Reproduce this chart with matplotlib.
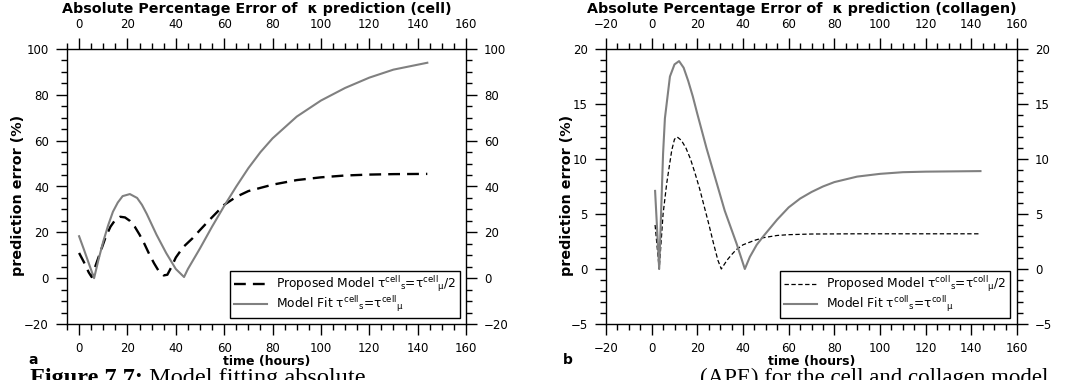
import matplotlib
matplotlib.use("Agg")
import matplotlib.pyplot as plt
from matplotlib.ticker import MultipleLocator
from matplotlib.text import Annotation

plt.rcParams['font.family'] = ['DejaVu Sans']
plt.rcParams['mathtext.default'] = 'regular'

# ---- data: cell panel ----
cell_prop_t = [0, 2, 4, 5.2, 7, 9, 11, 13, 15, 17, 19, 21, 23, 25, 27, 29, 31, 33, 35, 36.5,
               38, 40, 43, 47, 50, 54, 60, 65, 70, 80, 90, 100, 110, 120, 130, 144]
cell_prop_v = [11, 7, 2.5, 0.5, 6, 12, 18, 22.5, 25.5, 26.8, 26.5, 25, 22.5, 19, 15, 10.5, 6.5, 3, 1.2, 1.5,
               4.5, 9, 13.5, 17.5, 21, 25.5, 32, 35.5, 38, 40.8, 42.8, 44, 44.8, 45.2, 45.4, 45.5]
cell_fit_t = [0, 2, 4, 6.2, 8, 10, 12, 14, 16, 18, 21, 24, 26, 28, 30, 32, 34, 36, 38, 40, 43.4,
              45, 50, 55, 60, 65, 70, 75, 80, 90, 100, 110, 120, 130, 144]
cell_fit_v = [18.3, 12.5, 6.5, 0, 8, 16, 23, 29, 33, 35.8, 36.7, 35, 32, 28, 23.5, 19, 15, 11, 7.5, 4, 0.5,
              4, 13, 22.5, 31.5, 40, 48, 55, 61, 70.5, 77.5, 83, 87.5, 91, 94]

# ---- data: collagen panel ----
coll_prop_t = [1.5, 3.3, 5, 6.6, 8.8, 10, 11.2, 13, 15, 17, 19, 21, 23, 25, 27, 29, 30.5,
               33, 35, 37, 40, 45, 49, 55, 60, 70, 90, 144]
coll_prop_v = [4.0, 0, 5, 7.8, 10.8, 11.8, 12, 11.7, 11, 10, 8.7, 7.3, 5.7, 4.1, 2.4, 0.8, 0,
               0.8, 1.3, 1.75, 2.2, 2.6, 2.85, 3.05, 3.12, 3.18, 3.2, 3.2]
coll_fit_t = [1.5, 3.3, 5, 5.8, 8, 10, 12, 14, 16, 18, 20, 24, 28.5, 32, 37.2, 40.8,
              43, 46, 49, 55, 60, 65, 70, 75, 80, 90, 100, 110, 120, 144]
coll_fit_v = [7.1, 0, 10.5, 13.7, 17.5, 18.6, 18.9, 18.3, 17.1, 15.7, 14.1, 11, 7.8, 5.3, 2.3, 0,
              1.1, 2.2, 3.0, 4.5, 5.6, 6.4, 7.0, 7.5, 7.9, 8.4, 8.65, 8.8, 8.85, 8.9]

titles = ["Absolute Percentage Error of  κ prediction (cell)",
          "Absolute Percentage Error of  κ prediction (collagen)"]
legend_prop = [r"Proposed Model τ$^{cell}$$_{s}$=τ$^{cell}$$_{μ}$/2",
               r"Proposed Model τ$^{coll}$$_{s}$=τ$^{coll}$$_{μ}$/2"]
legend_fit = [r"Model Fit τ$^{cell}$$_{s}$=τ$^{cell}$$_{μ}$",
              r"Model Fit τ$^{coll}$$_{s}$=τ$^{coll}$$_{μ}$"]
panel_letters = ["a", "b"]
caption_bold = "Figure 7.7:"
caption_left = " Model fitting absolute"
caption_right = "(APE) for the cell and collagen model"

W, H = 1065, 380
fig = plt.figure(figsize=(W / 100, H / 100), dpi=100)

def fr(x0, y0, x1, y1):
    return [x0 / W, 1 - y1 / H, (x1 - x0) / W, (y1 - y0) / H]

ax1 = fig.add_axes(fr(67, 49, 466, 324))
ax2 = fig.add_axes(fr(606, 49, 1017, 324))

gray = '#808080'
ax1.plot(cell_prop_t, cell_prop_v, color='black', lw=1.7, ls=(0, (5, 3)), label=legend_prop[0])
ax1.plot(cell_fit_t, cell_fit_v, color=gray, lw=1.5, label=legend_fit[0])
ax2.plot(coll_prop_t, coll_prop_v, color='black', lw=0.9, ls=(0, (3.5, 2)), label=legend_prop[1])
ax2.plot(coll_fit_t, coll_fit_v, color=gray, lw=1.5, label=legend_fit[1])

ax1.set_xlim(-5, 160)
ax1.set_ylim(-20, 100)
ax1.xaxis.set_major_locator(MultipleLocator(20))
ax1.xaxis.set_minor_locator(MultipleLocator(5))
ax1.yaxis.set_major_locator(MultipleLocator(20))
ax1.yaxis.set_minor_locator(MultipleLocator(5))

ax2.set_xlim(-20, 160)
ax2.set_ylim(-5, 20)
ax2.xaxis.set_major_locator(MultipleLocator(20))
ax2.xaxis.set_minor_locator(MultipleLocator(5))
ax2.yaxis.set_major_locator(MultipleLocator(5))
ax2.yaxis.set_minor_locator(MultipleLocator(1))

title_x = [256.5, 802]
letter_x = [28, 563]
ylabel_x = [-49 / 399, -39 / 411]
leg_anchor = [(1 - 6 / 399, 6 / 275), (1 - 7 / 411, 6 / 275)]
for i, ax in enumerate([ax1, ax2]):
    ax.tick_params(which='both', direction='out', top=True, right=True,
                   labeltop=True, labelright=True, labelsize=8.5, width=1.0)
    ax.tick_params(which='major', length=8, pad=5)
    ax.tick_params(which='minor', length=4.5)
    for s in ax.spines.values():
        s.set_linewidth(1.0)
    fig.text(title_x[i] / W, 1 - 9 / H, titles[i], fontsize=10.3, fontweight='bold',
             ha='center', va='center')
    ax.set_xlabel("time (hours)", fontsize=9, fontweight='bold', labelpad=0)
    ax.set_ylabel("prediction error (%)", fontsize=10.3, fontweight='bold')
    ax.yaxis.set_label_coords(ylabel_x[i], 129 / 275)
    ax.yaxis.label.set_va('center')
    leg = ax.legend(loc='lower right', fontsize=8.8, frameon=True, fancybox=False,
                    edgecolor='black', framealpha=1, borderpad=0.3, handlelength=2.7,
                    labelspacing=0.0, borderaxespad=0, bbox_to_anchor=leg_anchor[i])
    leg.get_frame().set_linewidth(1.0)
    fig.text(letter_x[i] / W, 1 - 360 / H, panel_letters[i], fontsize=10,
             fontweight='bold', va='center')

# partially visible caption below the figure
t1 = fig.text(30 / W, 1 - 368 / H, caption_bold, fontsize=17.5, fontweight='bold',
              family='Liberation Serif', va='top', ha='left')
fig.add_artist(Annotation(caption_left, xy=(1, 0), xycoords=t1, va='bottom', ha='left',
                          fontsize=17.5, family='Liberation Serif'))
fig.text(700 / W, 1 - 368 / H, caption_right, fontsize=16.5,
         family='Liberation Serif', va='top', ha='left')

fig.savefig("out.png", dpi=100)
